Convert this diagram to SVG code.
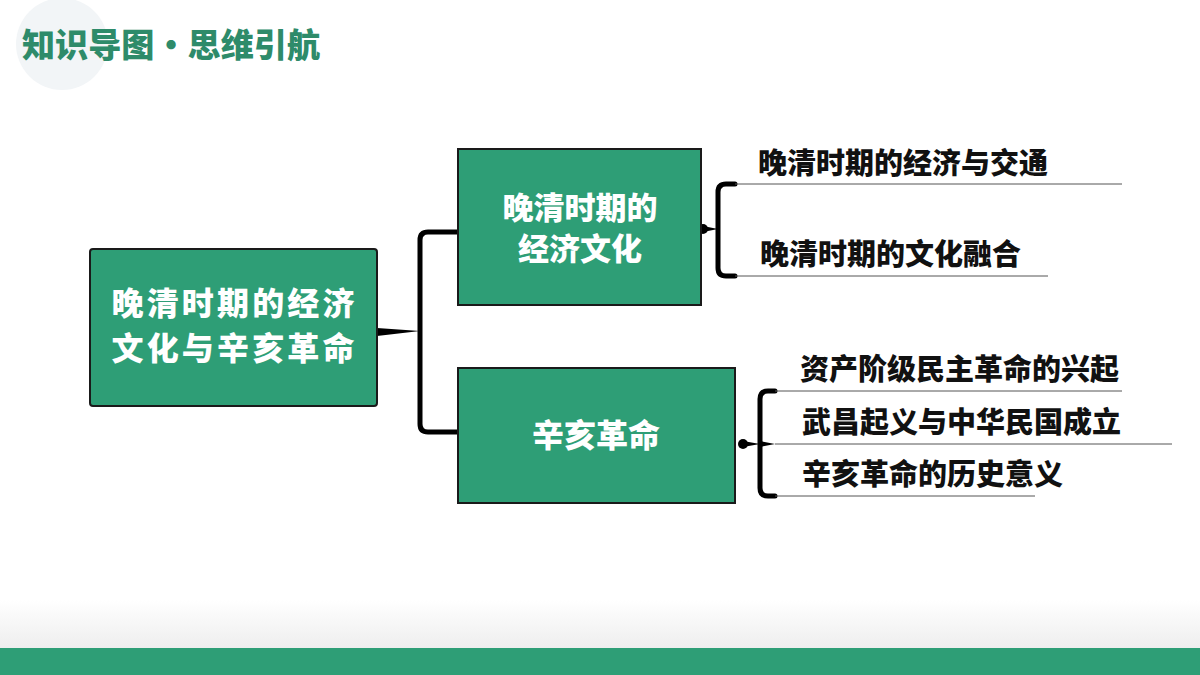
<svg xmlns="http://www.w3.org/2000/svg" width="1200" height="675" viewBox="0 0 1200 675">
<defs>
<style>
.box{fill:#2E9E76;stroke:#1a1a1a;stroke-width:2}
.wt{fill:#fff;font-family:"Noto Sans CJK SC",sans-serif;font-weight:900;font-size:32px;text-anchor:middle}
.bt{fill:#111;font-family:"Noto Sans CJK SC",sans-serif;font-weight:900;font-size:29px}
.ln{stroke:#555;stroke-width:1;fill:none}
.br{stroke:#000;stroke-width:5;fill:none;stroke-linecap:round}
</style>
<linearGradient id="sh" x1="0" y1="0" x2="0" y2="1"><stop offset="0" stop-color="#fff"/><stop offset="1" stop-color="#eeeeee"/></linearGradient>
</defs>
<rect width="1200" height="675" fill="#fff"/>
<rect x="0" y="600" width="1200" height="48" fill="url(#sh)"/>
<rect x="0" y="648" width="1200" height="27" fill="#2E9E76"/>
<circle cx="62" cy="44" r="46" fill="#f2f5f7"/>
<text x="22" y="57" font-family="'Noto Sans CJK SC',sans-serif" font-weight="900" font-size="33" fill="#2E8B6A" textLength="298" lengthAdjust="spacingAndGlyphs">知识导图·思维引航</text>
<g id="connectors">
<path d="M377,328 L420,331 L377,336 Z" fill="#000"/>
<path class="br" d="M458,232 H428 Q420,232 420,240 V424 Q420,432 428,432 H458"/>
<circle cx="703" cy="229" r="5" fill="#000"/>
<path d="M703,226 L718,229 L703,232 Z" fill="#000"/>
<path class="br" d="M735,184 H726 Q718,184 718,192 V268 Q718,276 726,276 H735"/>
<line class="ln" x1="735" y1="184" x2="1122" y2="184"/>
<line class="ln" x1="735" y1="276" x2="1048" y2="276"/>
<circle cx="743" cy="444" r="5" fill="#000"/>
<path d="M743,441 L760,444 L743,447 Z" fill="#000"/>
<path class="br" d="M775,391 H768 Q760,391 760,399 V488 Q760,496 768,496 H775"/>
<path d="M760,441 L775,444 L760,447 Z" fill="#000"/>
<line class="ln" x1="775" y1="391" x2="1122" y2="391"/>
<line class="ln" x1="775" y1="444" x2="1172" y2="444"/>
<line class="ln" x1="775" y1="496" x2="1035" y2="496"/>
</g>
<g id="n0"><rect class="box" x="90" y="249" width="287" height="157" rx="3"/>
<text class="wt" x="233" y="315" textLength="243">晚清时期的经济</text><text class="wt" x="233" y="360" textLength="243">文化与辛亥革命</text></g>
<g id="n1"><rect class="box" x="458" y="149" width="243" height="156"/>
<text class="wt" x="580" y="219" style="font-size:31px">晚清时期的</text><text class="wt" x="580" y="260" style="font-size:31px">经济文化</text></g>
<g id="n2"><rect class="box" x="458" y="368" width="277" height="135"/>
<text class="wt" x="596" y="447">辛亥革命</text></g>
<g id="l1"><text class="bt" x="758" y="174">晚清时期的经济与交通</text></g>
<g id="l2"><text class="bt" x="760" y="265">晚清时期的文化融合</text></g>
<g id="l3"><text class="bt" x="800" y="380">资产阶级民主革命的兴起</text></g>
<g id="l4"><text class="bt" x="802" y="433">武昌起义与中华民国成立</text></g>
<g id="l5"><text class="bt" x="802" y="485">辛亥革命的历史意义</text></g>
</svg>
